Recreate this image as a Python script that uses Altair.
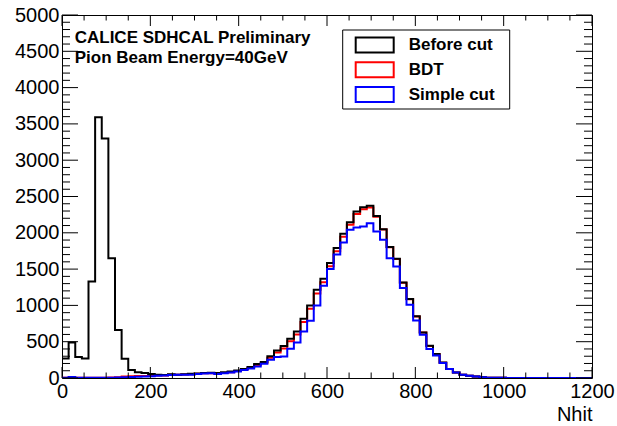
import altair as alt
import pandas as pd

# ---------------- data ----------------
bin_width = 15
before_cut = [270, 490, 290, 270, 1330, 3590, 3300, 1650, 660, 265,
              110, 80, 68, 55, 46, 42, 52, 46, 50, 58,
              62, 68, 72, 68, 78, 88, 105, 125, 152, 192,
              222, 300, 380, 440, 540, 640, 816, 1000, 1215, 1367,
              1583, 1789, 1986, 2147, 2293, 2353, 2371, 2233, 2050, 1803,
              1642, 1316, 1087, 850, 628, 444, 330, 212, 124, 76,
              44, 32, 22, 10, 5, 3, 2, 1, 1, 0,
              0, 0, 0, 0, 0, 0, 0, 0, 0, 0]
bdt = [3, 8, 3, 2, 2, 3, 5, 8, 12, 22,
       25, 26, 28, 30, 34, 36, 44, 46, 48, 50,
       58, 64, 66, 60, 70, 80, 98, 118, 142, 178,
       208, 280, 350, 405, 505, 600, 770, 955, 1165, 1320,
       1540, 1745, 1945, 2110, 2260, 2325, 2350, 2220, 2045, 1800,
       1638, 1312, 1084, 846, 626, 442, 328, 210, 123, 75,
       44, 32, 22, 10, 5, 3, 2, 1, 1, 0,
       0, 0, 0, 0, 0, 0, 0, 0, 0, 0]
simple_cut = [5, 15, 5, 3, 2, 2, 3, 4, 6, 10,
              14, 18, 22, 25, 30, 34, 40, 44, 46, 46,
              55, 62, 64, 56, 66, 76, 90, 110, 130, 160,
              195, 250, 290, 297, 403, 490, 640, 790, 1000, 1270,
              1500, 1700, 1866, 2042, 2073, 2087, 2133, 2018, 1904, 1651,
              1535, 1239, 1009, 793, 596, 399, 311, 206, 124, 76,
              44, 32, 22, 10, 5, 3, 2, 1, 1, 0,
              0, 0, 0, 0, 0, 0, 0, 0, 0, 0]

x_major = [0, 200, 400, 600, 800, 1000, 1200]
x_minor = [v for v in range(0, 1201, 50) if v % 200 != 0]
y_major = [0, 500, 1000, 1500, 2000, 2500, 3000, 3500, 4000, 4500, 5000]
y_minor = [v for v in range(0, 5001, 100) if v % 500 != 0]

legend_labels = ["Before cut", "BDT", "Simple cut"]
legend_colors = ["#000000", "#ff0000", "#0000ff"]
annotation_lines = ["CALICE SDHCAL Preliminary", "Pion Beam Energy=40GeV"]

# ---------------- layout ----------------
W, H = 530, 363
FONT = "Liberation Sans"
xs = alt.Scale(domain=[0, 1200], nice=False, zero=False)
ys = alt.Scale(domain=[0, 5000], nice=False)

x_axis = alt.Axis(
    values=x_major, format="d", ticks=False, domain=False, grid=False,
    labelFontSize=20, labelFont=FONT, labelColor="black", labelPadding=3,
    labelFlush=False, labelOverlap=False,
    title="Nhit", titleFont=FONT, titleFontSize=20, titleFontWeight="normal",
    titleColor="black", titleX=W, titleY=42, titleAlign="right",
    titleBaseline="alphabetic")
y_axis = alt.Axis(
    values=y_major, format="d", ticks=False, domain=False, grid=False,
    labelFontSize=20, labelFont=FONT, labelColor="black", labelPadding=3,
    labelFlush=False, labelOverlap=False, title=" ")


def hist_df(values):
    edges = [i * bin_width for i in range(len(values))] + [len(values) * bin_width]
    return pd.DataFrame({"nhit": edges, "count": list(values) + [values[-1]]})


def hist_layer(values, color):
    return alt.Chart(hist_df(values)).mark_line(
        interpolate="step-after", color=color, strokeWidth=2, clip=True
    ).encode(x=alt.X("nhit:Q", scale=xs, axis=x_axis),
             y=alt.Y("count:Q", scale=ys, axis=y_axis))


layers = [
    hist_layer(bdt, legend_colors[1]),
    hist_layer(before_cut, legend_colors[0]),
    hist_layer(simple_cut, legend_colors[2]),
]


# inward ROOT-style ticks on all four sides
def xticks(vals, length):
    df = pd.DataFrame({"nhit": vals})
    bottom = alt.Chart(df).mark_rule(color="black", strokeWidth=1).encode(
        x=alt.X("nhit:Q", scale=xs, axis=x_axis), y=alt.value(H), y2=alt.value(H - length))
    top = alt.Chart(df).mark_rule(color="black", strokeWidth=1).encode(
        x=alt.X("nhit:Q", scale=xs, axis=x_axis), y=alt.value(0), y2=alt.value(length))
    return [bottom, top]


def yticks(vals, length):
    df = pd.DataFrame({"count": vals})
    left = alt.Chart(df).mark_rule(color="black", strokeWidth=1).encode(
        y=alt.Y("count:Q", scale=ys, axis=y_axis), x=alt.value(0), x2=alt.value(length))
    right = alt.Chart(df).mark_rule(color="black", strokeWidth=1).encode(
        y=alt.Y("count:Q", scale=ys, axis=y_axis), x=alt.value(W), x2=alt.value(W - length))
    return [left, right]


layers += xticks(x_major, 11) + xticks(x_minor, 5.5)
layers += yticks(y_major, 16) + yticks(y_minor, 8)

# annotation text
for i, line in enumerate(annotation_lines):
    layers.append(alt.Chart(pd.DataFrame({"t": [line]})).mark_text(
        font=FONT, fontSize=17, fontWeight="bold", align="left",
        baseline="alphabetic", color="black"
    ).encode(x=alt.value(12.7), y=alt.value(28 + 19.5 * i), text="t:N"))

# legend box
legend_df = pd.DataFrame({"a": [0]})
layers.append(alt.Chart(legend_df).mark_rect(
    fill="white", stroke="black", strokeWidth=1
).encode(x=alt.value(280.7), x2=alt.value(447.7), y=alt.value(15), y2=alt.value(94)))

for i, (lab, col) in enumerate(zip(legend_labels, legend_colors)):
    cy = 30 + 24.75 * i
    layers.append(alt.Chart(legend_df).mark_rect(
        fill="white", stroke=col, strokeWidth=2
    ).encode(x=alt.value(293.7), x2=alt.value(331.7), y=alt.value(cy - 7.5),
             y2=alt.value(cy + 7.5)))
    layers.append(alt.Chart(pd.DataFrame({"t": [lab]})).mark_text(
        font=FONT, fontSize=17, fontWeight="bold", align="left",
        baseline="middle", color="black"
    ).encode(x=alt.value(346.7), y=alt.value(cy), text="t:N"))

chart = alt.layer(*layers).properties(
    width=W, height=H,
    autosize=alt.AutoSizeParams(type="none"),
    padding={"left": 62, "top": 15, "right": 25, "bottom": 48},
    background="white",
).configure_view(stroke="black", strokeWidth=1)

chart.save("out.html", embed_options={"renderer": "svg", "actions": False})
